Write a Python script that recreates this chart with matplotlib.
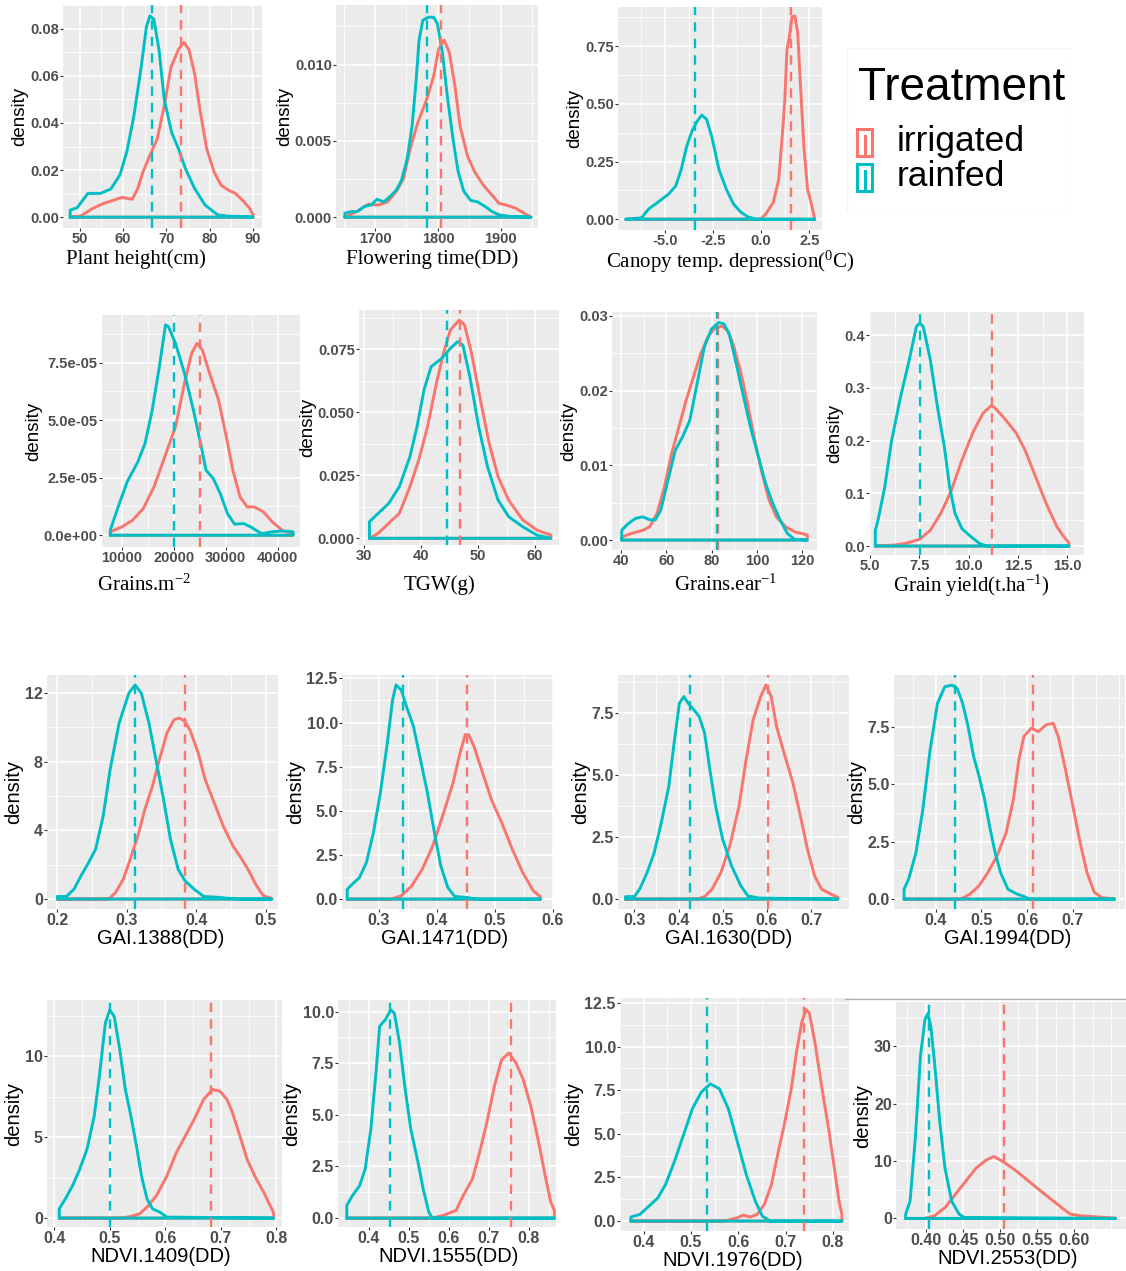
import matplotlib
matplotlib.use('Agg')
import matplotlib.pyplot as plt
from matplotlib.patches import Rectangle
from matplotlib.lines import Line2D
from matplotlib.ticker import AutoMinorLocator

plt.rcParams['mathtext.fontset'] = 'custom'
plt.rcParams['mathtext.rm'] = 'Liberation Serif'
plt.rcParams['mathtext.it'] = 'Liberation Serif:italic'

W, H = 1126, 1271
IRR = '#F8766D'
RAIN = '#00BFC4'
SANS = 'Liberation Sans'
SERIF = 'Liberation Serif'

treatments = ['irrigated', 'rainfed']

# ---------------- data (density curves) ----------------
# Plant height
ph_irr_x = [47.8, 50.2, 53.1, 55.6, 58.0, 59.7, 60.9, 62.1, 63.4, 64.6, 66.2, 67.9, 69.5, 71.1, 72.8, 74.0, 75.2, 76.5, 77.7, 79.3, 81.0, 82.6, 84.3, 85.9, 87.5, 89.2, 90.0]
ph_irr_y = [0.0, 0.0005, 0.0038, 0.0059, 0.0073, 0.0084, 0.0080, 0.0076, 0.0122, 0.0192, 0.0263, 0.0333, 0.0473, 0.0640, 0.0712, 0.0743, 0.0712, 0.0610, 0.0460, 0.0290, 0.0192, 0.0136, 0.0115, 0.0101, 0.0073, 0.0038, 0.0010]
ph_rain_x = [47.8, 49.4, 51.9, 54.8, 57.2, 59.3, 60.9, 62.5, 64.2, 65.4, 66.2, 67.1, 68.3, 69.5, 71.2, 72.8, 74.4, 76.5, 78.9, 81.8, 84.3, 87.0, 90.0]
ph_rain_y = [0.003, 0.004, 0.0101, 0.0101, 0.012, 0.018, 0.028, 0.043, 0.064, 0.081, 0.0855, 0.084, 0.071, 0.050, 0.036, 0.029, 0.0206, 0.0122, 0.0052, 0.0010, 0.0004, 0.0003, 0.0]
ph_means = [73.3, 66.6]

# Flowering time
ft_irr_x = [1652, 1672, 1689, 1706, 1720, 1734, 1745, 1756, 1768, 1782, 1793, 1801, 1810, 1818, 1827, 1835, 1847, 1858, 1872, 1886, 1897, 1908, 1923, 1937, 1948]
ft_irr_y = [0.0, 0.0004, 0.00084, 0.0008, 0.0010, 0.0017, 0.0025, 0.0045, 0.0062, 0.0077, 0.0092, 0.0110, 0.0116, 0.0108, 0.0086, 0.0060, 0.0040, 0.0030, 0.0021, 0.00145, 0.0009, 0.0008, 0.0006, 0.00026, 0.0]
ft_rain_x = [1652, 1663, 1672, 1683, 1694, 1703, 1714, 1725, 1734, 1742, 1751, 1759, 1765, 1770, 1776, 1785, 1793, 1799, 1807, 1815, 1824, 1832, 1841, 1852, 1863, 1875, 1886, 1897, 1914, 1948]
ft_rain_y = [0.00026, 0.00037, 0.00037, 0.0007, 0.0008, 0.00117, 0.0010, 0.0014, 0.00178, 0.0024, 0.0038, 0.0060, 0.0088, 0.0116, 0.0129, 0.0131, 0.0131, 0.0127, 0.0108, 0.0079, 0.0051, 0.0030, 0.0017, 0.0011, 0.0010, 0.0007, 0.00037, 0.00015, 0.00005, 0.0]
ft_means = [1805, 1783]

# Canopy temperature depression
ct_irr_x = [-7.03, -0.03, 0.25, 0.63, 0.91, 1.09, 1.23, 1.34, 1.47, 1.60, 1.75, 1.90, 2.03, 2.22, 2.41, 2.59, 2.74, 2.78]
ct_irr_y = [0.0, 0.0, 0.024, 0.073, 0.172, 0.355, 0.520, 0.736, 0.792, 0.877, 0.880, 0.806, 0.595, 0.313, 0.130, 0.073, 0.017, 0.0]
ct_rain_x = [-7.03, -6.22, -5.84, -5.38, -4.81, -4.44, -4.16, -3.88, -3.59, -3.31, -3.09, -2.84, -2.56, -2.19, -1.81, -1.44, -1.06, -0.69, -0.22, 2.78]
ct_rain_y = [0.0, 0.006, 0.045, 0.073, 0.109, 0.144, 0.214, 0.313, 0.383, 0.426, 0.451, 0.433, 0.355, 0.214, 0.130, 0.066, 0.031, 0.010, 0.0, 0.0]
ct_means = [1.53, -3.46]

# Grains per m2
gm_irr_x = [7793, 10000, 12069, 14138, 16207, 18276, 20345, 22069, 23448, 24483, 25517, 26897, 28621, 30000, 31379, 32759, 34138, 35517, 37241, 38966, 41034, 42966]
gm_irr_y = [1.5e-6, 3.6e-6, 6.5e-6, 1.16e-5, 2.1e-5, 3.41e-5, 4.71e-5, 6.6e-5, 7.91e-5, 8.34e-5, 8.05e-5, 7.04e-5, 5.88e-5, 4.42e-5, 2.83e-5, 1.67e-5, 1.23e-5, 1.23e-5, 1.02e-5, 5.8e-6, 1.9e-6, 7e-7]
gm_rain_x = [7793, 9310, 11034, 13103, 14483, 15862, 17241, 18414, 18966, 20345, 22069, 23793, 25172, 26207, 27586, 28966, 30345, 31724, 33448, 34828, 36897, 38966, 41034, 42966]
gm_rain_y = [2.2e-6, 1.23e-5, 2.32e-5, 3.19e-5, 3.99e-5, 5.44e-5, 7.33e-5, 9.14e-5, 9.07e-5, 8.34e-5, 7.04e-5, 5.44e-5, 3.99e-5, 2.83e-5, 2.47e-5, 1.81e-5, 9.4e-6, 4.8e-6, 5.1e-6, 3.6e-6, 7e-7, 1.5e-6, 1.9e-6, 1.5e-6]
gm_means = [24966, 20000]

# TGW
tgw_irr_x = [30.93, 32.47, 34.33, 36.18, 38.04, 39.59, 41.13, 42.68, 43.91, 45.15, 46.70, 47.62, 48.86, 50.41, 51.95, 53.50, 55.36, 57.83, 60.30, 61.85, 62.78]
tgw_irr_y = [0.0, 0.0020, 0.0060, 0.0099, 0.0205, 0.0311, 0.0443, 0.0615, 0.0734, 0.0827, 0.0866, 0.0847, 0.0734, 0.0549, 0.0377, 0.0245, 0.0152, 0.0073, 0.0033, 0.0020, 0.0013]
tgw_rain_x = [30.93, 32.47, 34.33, 36.18, 38.04, 39.28, 40.51, 41.75, 43.61, 45.15, 46.39, 47.32, 48.55, 50.10, 51.65, 53.50, 55.36, 57.83, 60.30, 62.78]
tgw_rain_y = [0.0066, 0.0099, 0.0139, 0.0205, 0.0324, 0.0443, 0.0589, 0.0681, 0.0714, 0.0754, 0.0780, 0.0767, 0.0642, 0.0443, 0.0284, 0.0152, 0.0086, 0.0046, 0.0013, 0.0]
tgw_means = [46.9, 44.5]

# Grains per ear
ge_irr_x = [40.3, 44.8, 49.6, 52.7, 55.9, 59.1, 62.3, 65.5, 68.7, 71.9, 75.1, 78.2, 81.4, 84.6, 87.0, 89.4, 92.6, 95.8, 99.0, 102.2, 105.3, 108.5, 112.5, 116.5, 122.1]
ge_irr_y = [0.0004, 0.0009, 0.0013, 0.0018, 0.0036, 0.0071, 0.0116, 0.0151, 0.0187, 0.0218, 0.0249, 0.0271, 0.0284, 0.0286, 0.0280, 0.0262, 0.0227, 0.0182, 0.0133, 0.0089, 0.0053, 0.0031, 0.0018, 0.0011, 0.0007]
ge_rain_x = [40.3, 43.2, 46.4, 49.6, 52.7, 55.1, 57.5, 60.7, 63.9, 67.1, 70.3, 73.5, 76.7, 79.8, 83.0, 85.4, 87.8, 91.0, 94.2, 97.4, 100.6, 103.7, 106.9, 110.1, 113.3, 116.5, 122.1]
ge_rain_y = [0.00133, 0.0022, 0.0029, 0.0031, 0.0027, 0.0027, 0.0040, 0.0080, 0.0120, 0.0138, 0.0160, 0.0209, 0.0258, 0.0282, 0.0291, 0.0289, 0.0275, 0.0233, 0.0189, 0.0147, 0.0111, 0.0076, 0.0049, 0.0027, 0.0009, 0.0001, 0.0]
ge_means = [82.6, 82.5]

# Grain yield
gy_irr_x = [5.27, 6.28, 6.81, 7.53, 8.06, 8.59, 9.13, 9.66, 10.20, 10.73, 11.17, 11.44, 11.89, 12.42, 12.86, 13.40, 13.93, 14.47, 14.82, 15.09]
gy_irr_y = [0.0, 0.002, 0.005, 0.013, 0.030, 0.062, 0.106, 0.163, 0.214, 0.252, 0.267, 0.258, 0.239, 0.214, 0.182, 0.131, 0.081, 0.037, 0.018, 0.006]
gy_rain_x = [5.27, 5.39, 5.75, 6.10, 6.55, 6.99, 7.35, 7.53, 7.70, 8.06, 8.42, 8.77, 9.04, 9.31, 9.66, 10.11, 10.55, 10.91, 15.09]
gy_rain_y = [0.030, 0.046, 0.112, 0.201, 0.283, 0.353, 0.416, 0.423, 0.416, 0.353, 0.264, 0.188, 0.112, 0.062, 0.033, 0.018, 0.005, 0.0, 0.0]
gy_means = [11.17, 7.53]

# GAI.1388
g1_irr_x = [0.200, 0.274, 0.284, 0.295, 0.305, 0.316, 0.326, 0.337, 0.347, 0.358, 0.368, 0.376, 0.384, 0.392, 0.403, 0.413, 0.426, 0.439, 0.453, 0.466, 0.476, 0.487, 0.497, 0.509]
g1_irr_y = [0.0, 0.0, 0.39, 1.16, 2.32, 3.68, 5.22, 6.58, 8.13, 9.68, 10.45, 10.55, 10.35, 9.77, 8.51, 6.97, 5.61, 4.26, 3.10, 2.32, 1.64, 0.77, 0.19, 0.04]
g1_rain_x = [0.200, 0.213, 0.224, 0.234, 0.245, 0.255, 0.266, 0.276, 0.289, 0.303, 0.312, 0.321, 0.332, 0.342, 0.353, 0.363, 0.374, 0.384, 0.397, 0.411, 0.432, 0.458, 0.509]
g1_rain_y = [0.15, 0.15, 0.58, 1.35, 2.13, 2.90, 4.84, 7.55, 10.26, 12.0, 12.48, 12.0, 10.26, 8.13, 5.81, 3.48, 1.74, 1.06, 0.58, 0.15, 0.10, 0.0, 0.0]
g1_means = [0.384, 0.312]

# GAI.1471
g2_irr_x = [0.246, 0.321, 0.339, 0.357, 0.375, 0.393, 0.410, 0.428, 0.440, 0.449, 0.455, 0.464, 0.479, 0.494, 0.512, 0.530, 0.548, 0.566, 0.578]
g2_irr_y = [0.0, 0.0, 0.19, 0.75, 1.69, 3.00, 4.70, 6.58, 8.27, 9.31, 9.31, 8.65, 7.14, 5.64, 4.32, 2.82, 1.50, 0.47, 0.15]
g2_rain_x = [0.246, 0.255, 0.267, 0.279, 0.291, 0.303, 0.315, 0.324, 0.330, 0.339, 0.348, 0.360, 0.372, 0.384, 0.396, 0.407, 0.419, 0.431, 0.452, 0.470, 0.578]
g2_rain_y = [0.56, 0.85, 1.22, 2.07, 3.76, 6.02, 8.84, 11.28, 12.13, 11.84, 10.90, 9.78, 7.90, 6.02, 3.76, 1.88, 0.66, 0.15, 0.09, 0.0, 0.0]
g2_means = [0.452, 0.342]

# GAI.1630
g3_irr_x = [0.280, 0.443, 0.459, 0.476, 0.496, 0.516, 0.537, 0.553, 0.569, 0.586, 0.598, 0.610, 0.622, 0.639, 0.659, 0.676, 0.692, 0.708, 0.724, 0.745, 0.761]
g3_irr_y = [0.0, 0.0, 0.10, 0.40, 1.07, 2.14, 3.75, 5.62, 7.23, 8.17, 8.64, 8.17, 6.96, 5.89, 4.69, 3.35, 2.01, 0.94, 0.40, 0.20, 0.07]
g3_rain_x = [0.280, 0.300, 0.312, 0.329, 0.345, 0.361, 0.378, 0.390, 0.402, 0.412, 0.422, 0.435, 0.447, 0.459, 0.471, 0.484, 0.500, 0.520, 0.541, 0.557, 0.582, 0.761]
g3_rain_y = [0.10, 0.10, 0.40, 1.07, 1.87, 3.08, 4.55, 6.29, 7.90, 8.17, 7.90, 7.63, 7.36, 6.70, 5.22, 3.75, 2.41, 1.34, 0.54, 0.13, 0.04, 0.0]
g3_means = [0.602, 0.425]

# GAI.1994
g4_irr_x = [0.331, 0.455, 0.475, 0.495, 0.514, 0.534, 0.554, 0.570, 0.582, 0.593, 0.609, 0.625, 0.641, 0.657, 0.668, 0.684, 0.700, 0.716, 0.731, 0.747, 0.763, 0.791]
g4_irr_y = [0.0, 0.0, 0.22, 0.58, 1.15, 1.87, 2.88, 4.33, 6.06, 7.07, 7.43, 7.28, 7.57, 7.64, 7.07, 5.62, 4.04, 2.45, 1.15, 0.29, 0.07, 0.0]
g4_rain_x = [0.331, 0.341, 0.357, 0.372, 0.388, 0.404, 0.420, 0.436, 0.447, 0.459, 0.471, 0.483, 0.495, 0.507, 0.518, 0.530, 0.542, 0.558, 0.578, 0.593, 0.605, 0.791]
g4_rain_y = [0.43, 0.87, 2.02, 3.89, 6.49, 8.51, 9.23, 9.30, 9.16, 8.51, 7.50, 6.20, 5.34, 4.33, 3.17, 2.02, 1.15, 0.43, 0.22, 0.12, 0.0, 0.0]
g4_means = [0.612, 0.443]

# NDVI.1409
n1_irr_x = [0.409, 0.518, 0.538, 0.554, 0.567, 0.584, 0.603, 0.620, 0.636, 0.652, 0.669, 0.685, 0.698, 0.711, 0.721, 0.734, 0.747, 0.761, 0.777, 0.793, 0.795]
n1_irr_y = [0.0, 0.0, 0.10, 0.27, 0.68, 1.39, 2.62, 4.06, 5.08, 6.11, 7.34, 7.95, 7.85, 7.34, 6.50, 5.10, 3.65, 2.60, 1.60, 0.47, 0.33]
n1_rain_x = [0.409, 0.420, 0.433, 0.446, 0.459, 0.472, 0.482, 0.492, 0.500, 0.508, 0.518, 0.528, 0.538, 0.548, 0.557, 0.567, 0.577, 0.590, 0.603, 0.795]
n1_rain_y = [0.57, 1.19, 2.00, 3.03, 4.26, 6.31, 8.97, 12.05, 12.87, 12.46, 10.41, 7.95, 6.31, 4.47, 2.62, 1.19, 0.57, 0.37, 0.06, 0.0]
n1_means = [0.682, 0.500]

# NDVI.1555
n2_irr_x = [0.345, 0.559, 0.586, 0.618, 0.636, 0.659, 0.677, 0.695, 0.714, 0.732, 0.750, 0.768, 0.786, 0.805, 0.823, 0.841, 0.855, 0.864]
n2_irr_y = [0.0, 0.0, 0.13, 0.37, 1.09, 1.89, 3.18, 4.62, 6.39, 7.67, 7.99, 7.51, 6.71, 5.42, 3.82, 2.05, 0.77, 0.37]
n2_rain_x = [0.345, 0.359, 0.377, 0.391, 0.405, 0.418, 0.427, 0.441, 0.455, 0.464, 0.477, 0.491, 0.505, 0.523, 0.536, 0.550, 0.559, 0.864]
n2_rain_y = [0.61, 1.09, 1.57, 2.38, 4.30, 7.03, 9.28, 9.60, 10.08, 9.92, 8.47, 6.23, 4.30, 2.70, 1.41, 0.29, 0.0, 0.0]
n2_means = [0.755, 0.452]

# NDVI.1976
n3_irr_x = [0.373, 0.571, 0.598, 0.610, 0.625, 0.640, 0.655, 0.670, 0.686, 0.697, 0.712, 0.724, 0.734, 0.743, 0.750, 0.762, 0.777, 0.792, 0.804, 0.813, 0.819]
n3_irr_y = [0.0, 0.0, 0.19, 0.34, 0.23, 0.38, 0.95, 2.08, 4.17, 5.49, 7.58, 9.85, 11.36, 12.12, 11.93, 10.23, 7.58, 5.11, 2.84, 1.14, 0.38]
n3_rain_x = [0.373, 0.392, 0.411, 0.430, 0.446, 0.465, 0.484, 0.503, 0.522, 0.541, 0.560, 0.579, 0.598, 0.617, 0.636, 0.651, 0.667, 0.819]
n3_rain_y = [0.23, 0.38, 0.85, 1.33, 2.08, 3.41, 4.92, 6.44, 7.39, 7.86, 7.58, 6.44, 4.55, 2.65, 1.14, 0.28, 0.0, 0.0]
n3_means = [0.739, 0.533]

# NDVI.2553
n4_irr_x = [0.373, 0.398, 0.412, 0.426, 0.440, 0.454, 0.468, 0.482, 0.492, 0.504, 0.520, 0.539, 0.558, 0.572, 0.586, 0.595, 0.609, 0.628, 0.656]
n4_irr_y = [0.0, 0.0, 0.46, 1.89, 4.19, 6.48, 8.78, 10.21, 10.78, 9.92, 8.49, 6.48, 4.47, 3.04, 1.61, 0.75, 0.46, 0.29, 0.06]
n4_rain_x = [0.373, 0.379, 0.386, 0.393, 0.399, 0.403, 0.407, 0.412, 0.419, 0.426, 0.435, 0.445, 0.452, 0.656]
n4_rain_y = [0.75, 3.04, 13.9, 28.3, 34.6, 35.7, 33.4, 27.1, 16.8, 8.78, 3.04, 0.75, 0.17, 0.0]
n4_means = [0.505, 0.405]

# ---------------- tick values / labels ----------------
ph_xt = [50, 60, 70, 80, 90]; ph_xl = ['50', '60', '70', '80', '90']
ph_yt = [0, 0.02, 0.04, 0.06, 0.08]; ph_yl = ['0.00', '0.02', '0.04', '0.06', '0.08']
ft_xt = [1700, 1800, 1900]; ft_xl = ['1700', '1800', '1900']
ft_yt = [0, 0.005, 0.010]; ft_yl = ['0.000', '0.005', '0.010']
ct_xt = [-5, -2.5, 0, 2.5]; ct_xl = ['-5.0', '-2.5', '0.0', '2.5']
ct_yt = [0, 0.25, 0.5, 0.75]; ct_yl = ['0.00', '0.25', '0.50', '0.75']
gm_xt = [10000, 20000, 30000, 40000]; gm_xl = ['10000', '20000', '30000', '40000']
gm_yt = [0, 2.5e-5, 5e-5, 7.5e-5]; gm_yl = ['0.0e+00', '2.5e-05', '5.0e-05', '7.5e-05']
tgw_xt = [30, 40, 50, 60]; tgw_xl = ['30', '40', '50', '60']
tgw_yt = [0, 0.025, 0.05, 0.075]; tgw_yl = ['0.000', '0.025', '0.050', '0.075']
ge_xt = [40, 60, 80, 100, 120]; ge_xl = ['40', '60', '80', '100', '120']
ge_yt = [0, 0.01, 0.02, 0.03]; ge_yl = ['0.00', '0.01', '0.02', '0.03']
gy_xt = [5, 7.5, 10, 12.5, 15]; gy_xl = ['5.0', '7.5', '10.0', '12.5', '15.0']
gy_yt = [0, 0.1, 0.2, 0.3, 0.4]; gy_yl = ['0.0', '0.1', '0.2', '0.3', '0.4']
g1_xt = [0.2, 0.3, 0.4, 0.5]; g1_xl = ['0.2', '0.3', '0.4', '0.5']
g1_yt = [0, 4, 8, 12]; g1_yl = ['0', '4', '8', '12']
g2_xt = [0.3, 0.4, 0.5, 0.6]; g2_xl = ['0.3', '0.4', '0.5', '0.6']
g2_yt = [0, 2.5, 5, 7.5, 10, 12.5]; g2_yl = ['0.0', '2.5', '5.0', '7.5', '10.0', '12.5']
g3_xt = [0.3, 0.4, 0.5, 0.6, 0.7]; g3_xl = ['0.3', '0.4', '0.5', '0.6', '0.7']
g3_yt = [0, 2.5, 5, 7.5]; g3_yl = ['0.0', '2.5', '5.0', '7.5']
g4_xt = [0.4, 0.5, 0.6, 0.7]; g4_xl = ['0.4', '0.5', '0.6', '0.7']
g4_yt = [0, 2.5, 5, 7.5]; g4_yl = ['0.0', '2.5', '5.0', '7.5']
n1_xt = [0.4, 0.5, 0.6, 0.7, 0.8]; n1_xl = ['0.4', '0.5', '0.6', '0.7', '0.8']
n1_yt = [0, 5, 10]; n1_yl = ['0', '5', '10']
n2_xt = [0.4, 0.5, 0.6, 0.7, 0.8]; n2_xl = ['0.4', '0.5', '0.6', '0.7', '0.8']
n2_yt = [0, 2.5, 5, 7.5, 10]; n2_yl = ['0.0', '2.5', '5.0', '7.5', '10.0']
n3_xt = [0.4, 0.5, 0.6, 0.7, 0.8]; n3_xl = ['0.4', '0.5', '0.6', '0.7', '0.8']
n3_yt = [0, 2.5, 5, 7.5, 10, 12.5]; n3_yl = ['0.0', '2.5', '5.0', '7.5', '10.0', '12.5']
n4_xt = [0.40, 0.45, 0.50, 0.55, 0.60]; n4_xl = ['0.40', '0.45', '0.50', '0.55', '0.60']
n4_yt = [0, 10, 20, 30]; n4_yl = ['0', '10', '20', '30']

titles = ['Plant height(cm)', 'Flowering time(DD)', 'Canopy temp. depression($^{0}$C)',
          'Grains.m$^{-2}$', 'TGW(g)', 'Grains.ear$^{-1}$', 'Grain yield(t.ha$^{-1}$)',
          'GAI.1388(DD)', 'GAI.1471(DD)', 'GAI.1630(DD)', 'GAI.1994(DD)',
          'NDVI.1409(DD)', 'NDVI.1555(DD)', 'NDVI.1976(DD)', 'NDVI.2553(DD)']

# ---------------- layout (pixel boxes, axis limits, title positions) ----------------
panels = [
    dict(box=(63, 5, 262, 228), xlim=(46.15, 92.05), ylim=(-0.0046, 0.0901),
         d=(ph_irr_x, ph_irr_y, ph_rain_x, ph_rain_y, ph_means), t=(ph_xt, ph_xl, ph_yt, ph_yl),
         title_xy=(136, 259), serif=True, row=1),
    dict(box=(336, 5, 538, 228), xlim=(1638, 1959), ylim=(-0.00071, 0.0139),
         d=(ft_irr_x, ft_irr_y, ft_rain_x, ft_rain_y, ft_means), t=(ft_xt, ft_xl, ft_yt, ft_yl),
         title_xy=(432, 259), serif=True, row=1),
    dict(box=(618, 7, 822, 230), xlim=(-7.44, 3.16), ylim=(-0.0465, 0.919),
         d=(ct_irr_x, ct_irr_y, ct_rain_x, ct_rain_y, ct_means), t=(ct_xt, ct_xl, ct_yt, ct_yl),
         title_xy=(730, 262), serif=True, row=1),
    dict(box=(102, 315, 300, 547), xlim=(6200, 44300), ylim=(-5.1e-6, 9.57e-5),
         d=(gm_irr_x, gm_irr_y, gm_rain_x, gm_rain_y, gm_means), t=(gm_xt, gm_xl, gm_yt, gm_yl),
         title_xy=(144, 585), serif=True, row=2),
    dict(box=(359, 310, 559, 545), xlim=(29.1, 64.2), ylim=(-0.00265, 0.0906),
         d=(tgw_irr_x, tgw_irr_y, tgw_rain_x, tgw_rain_y, tgw_means), t=(tgw_xt, tgw_xl, tgw_yt, tgw_yl),
         title_xy=(440, 585), serif=True, row=2),
    dict(box=(612, 312, 817, 550), xlim=(36.0, 126.4), ylim=(-0.00133, 0.0305),
         d=(ge_irr_x, ge_irr_y, ge_rain_x, ge_rain_y, ge_means), t=(ge_xt, ge_xl, ge_yt, ge_yl),
         title_xy=(726, 585), serif=True, row=2),
    dict(box=(869, 312, 1084, 555), xlim=(4.95, 15.85), ylim=(-0.017, 0.444),
         d=(gy_irr_x, gy_irr_y, gy_rain_x, gy_rain_y, gy_means), t=(gy_xt, gy_xl, gy_yt, gy_yl),
         title_xy=(971, 586), serif=True, row=2),
    dict(box=(47, 675, 278, 909), xlim=(0.185, 0.518), ylim=(-0.58, 13.06),
         d=(g1_irr_x, g1_irr_y, g1_rain_x, g1_rain_y, g1_means), t=(g1_xt, g1_xl, g1_yt, g1_yl),
         title_xy=(161, 939), serif=False, row=3),
    dict(box=(342, 675, 553, 909), xlim=(0.237, 0.584), ylim=(-0.56, 12.69),
         d=(g2_irr_x, g2_irr_y, g2_rain_x, g2_rain_y, g2_means), t=(g2_xt, g2_xl, g2_yt, g2_yl),
         title_xy=(445, 939), serif=False, row=3),
    dict(box=(618, 675, 849, 909), xlim=(0.263, 0.786), ylim=(-0.40, 9.04),
         d=(g3_irr_x, g3_irr_y, g3_rain_x, g3_rain_y, g3_means), t=(g3_xt, g3_xl, g3_yt, g3_yl),
         title_xy=(729, 939), serif=False, row=3),
    dict(box=(894, 675, 1125, 909), xlim=(0.309, 0.814), ylim=(-0.43, 9.74),
         d=(g4_irr_x, g4_irr_y, g4_rain_x, g4_rain_y, g4_means), t=(g4_xt, g4_xl, g4_yt, g4_yl),
         title_xy=(1008, 939), serif=False, row=3),
    dict(box=(47, 1000, 282, 1227), xlim=(0.387, 0.81), ylim=(-0.55, 13.48),
         d=(n1_irr_x, n1_irr_y, n1_rain_x, n1_rain_y, n1_means), t=(n1_xt, n1_xl, n1_yt, n1_yl),
         title_xy=(161, 1256), serif=False, row=4),
    dict(box=(338, 1000, 556, 1227), xlim=(0.323, 0.868), ylim=(-0.43, 10.56),
         d=(n2_irr_x, n2_irr_y, n2_rain_x, n2_rain_y, n2_means), t=(n2_xt, n2_xl, n2_yt, n2_yl),
         title_xy=(449, 1256), serif=False, row=4),
    dict(box=(620, 998, 849, 1231), xlim=(0.350, 0.834), ylim=(-0.57, 12.78),
         d=(n3_irr_x, n3_irr_y, n3_rain_x, n3_rain_y, n3_means), t=(n3_xt, n3_xl, n3_yt, n3_yl),
         title_xy=(733, 1260), serif=False, row=4),
    dict(box=(896, 1002, 1126, 1229), xlim=(0.36, 0.67), ylim=(-1.84, 37.7),
         d=(n4_irr_x, n4_irr_y, n4_rain_x, n4_rain_y, n4_means), t=(n4_xt, n4_xl, n4_yt, n4_yl),
         title_xy=(1008, 1258), serif=False, row=4),
]


def px_rect(l, t, r, b):
    return [l / W, 1 - b / H, (r - l) / W, (b - t) / H]


def draw_density(ax, x, y, color):
    xs = [x[0]] + list(x) + [x[-1], x[0]]
    ys = [0] + list(y) + [0, 0]
    ax.plot(xs, ys, color=color, lw=2.1, solid_joinstyle='round', solid_capstyle='round', zorder=3)


fig = plt.figure(figsize=(W / 100, H / 100), dpi=100)
fig.patch.set_facecolor('white')

for p, title in zip(panels, titles):
    ax = fig.add_axes(px_rect(*p['box']))
    ax.set_facecolor('#EBEBEB')
    for s in ax.spines.values():
        s.set_visible(False)
    ix, iy, rx, ry, means = p['d']
    draw_density(ax, ix, iy, IRR)
    draw_density(ax, rx, ry, RAIN)
    for m, c in zip(means, [IRR, RAIN]):
        ax.axvline(m, color=c, lw=1.7, linestyle=(0, (4, 3)), zorder=4)
    ax.set_xlim(*p['xlim'])
    ax.set_ylim(*p['ylim'])
    xt, xl, yt, yl = p['t']
    big = p['row'] >= 3
    tfs = 11.5 if big else 10.5
    ax.set_xticks(xt, labels=xl, fontsize=tfs, fontweight='bold', family=SANS)
    ax.set_yticks(yt, labels=yl, fontsize=tfs, fontweight='bold', family=SANS)
    ax.xaxis.set_minor_locator(AutoMinorLocator(2))
    ax.yaxis.set_minor_locator(AutoMinorLocator(2))
    ax.grid(True, which='major', color='white', lw=1.1)
    ax.grid(True, which='minor', color='white', lw=0.55)
    ax.set_axisbelow(True)
    ax.tick_params(which='major', length=2, color='#333333', width=0.8, pad=1, labelcolor='#4D4D4D')
    ax.tick_params(which='minor', length=0)
    ax.set_ylabel('density', fontsize=14.5 if big else 13.5, family=SANS, labelpad=1)
    tx, ty = p['title_xy']
    if p['serif']:
        fig.text(tx / W, 1 - ty / H, title, ha='center', va='center', fontsize=15, family=SERIF)
    else:
        fig.text(tx / W, 1 - ty / H, title, ha='center', va='center', fontsize=14.5, family=SANS)

# ---------------- legend ----------------
lax = fig.add_axes(px_rect(847, 48, 1072, 212))
lax.set_xlim(847, 1072)
lax.set_ylim(212, 48)
lax.axis('off')
lax.add_patch(Rectangle((847, 48), 225, 164, facecolor='white', edgecolor='#F2F2F2', lw=1))
lax.text(858, 88, 'Treatment', fontsize=33, family=SANS, va='center', ha='left')
for (lab, c, yc) in zip(treatments, [IRR, RAIN], [142, 177]):
    lax.add_patch(Rectangle((857, yc - 13), 15, 27, fill=False, edgecolor=c, lw=2.2))
    lax.plot([864.5, 864.5], [yc - 6, yc + 14], color=c, lw=2.2)
    lax.text(897, yc, lab, fontsize=25.5, family=SANS, va='center', ha='left')

fig.add_artist(Line2D([845 / W, 1126 / W], [1 - 999 / H, 1 - 999 / H], color='#B0B0B0', lw=1.0))

fig.savefig('out.png', dpi=100, facecolor='white')
